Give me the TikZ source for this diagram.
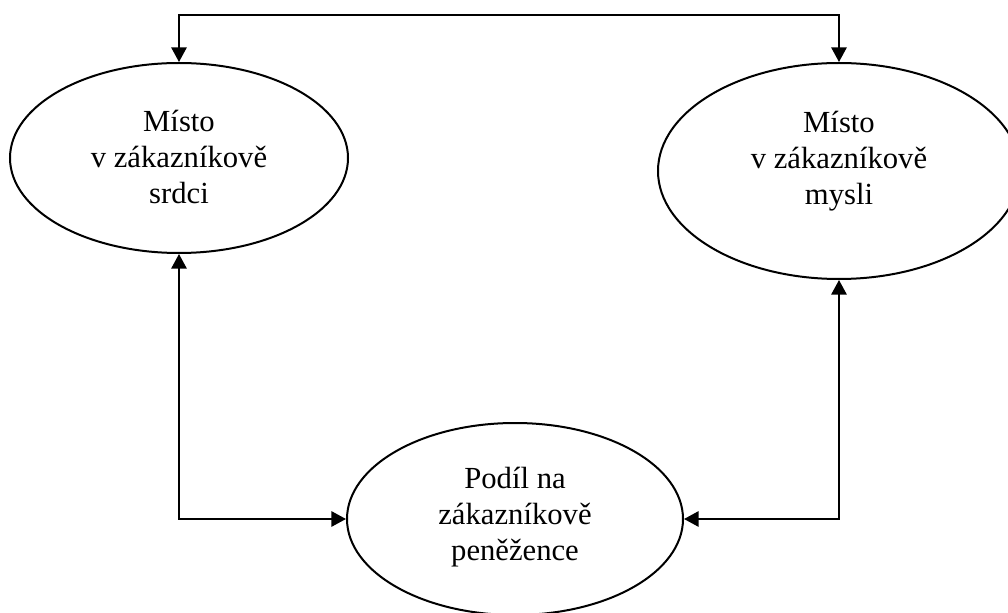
\documentclass[tikz,border=0pt]{standalone}
\usepackage{fontspec}
\setmainfont{Liberation Serif}
\usetikzlibrary{shapes.geometric,arrows.meta}
\begin{document}
\begin{tikzpicture}[x=0.75pt,y=-0.75pt,
  oval/.style={draw,ellipse,line width=1.5pt,inner sep=0pt},
  label/.style={align=center,font=\fontsize{23pt}{27pt}\selectfont},
  link/.style={line width=1.5pt,{Triangle[length=11pt,width=11.5pt]}-{Triangle[length=11pt,width=11.5pt]}}]
\useasboundingbox (0,0) rectangle (1008,613);
% three ovals
\node[oval,minimum width=253.5pt,minimum height=142.5pt] (heart) at (179,158) {};
\node[oval,minimum width=271.5pt,minimum height=162pt] (mind) at (839,171) {};
\node[oval,minimum width=252pt,minimum height=144pt] (wallet) at (515,519) {};
% their texts
\node[label] (heartT) at (179,157) {Místo\\v zákazníkově\\srdci};
\node[label] (mindT) at (839,161) {Místo\\v zákazníkově\\mysli};
\node[label] (walletT) at (515,517) {Podíl na\\zákazníkově\\peněžence};
% connectors
\coordinate (topleft) at (179,15);
\draw[link] (heart.north) -- (topleft) -| (mind.north);
\draw[link] (heart.south) |- (wallet.west);
\draw[link] (mind.south) |- (wallet.east);
\end{tikzpicture}
\end{document}
